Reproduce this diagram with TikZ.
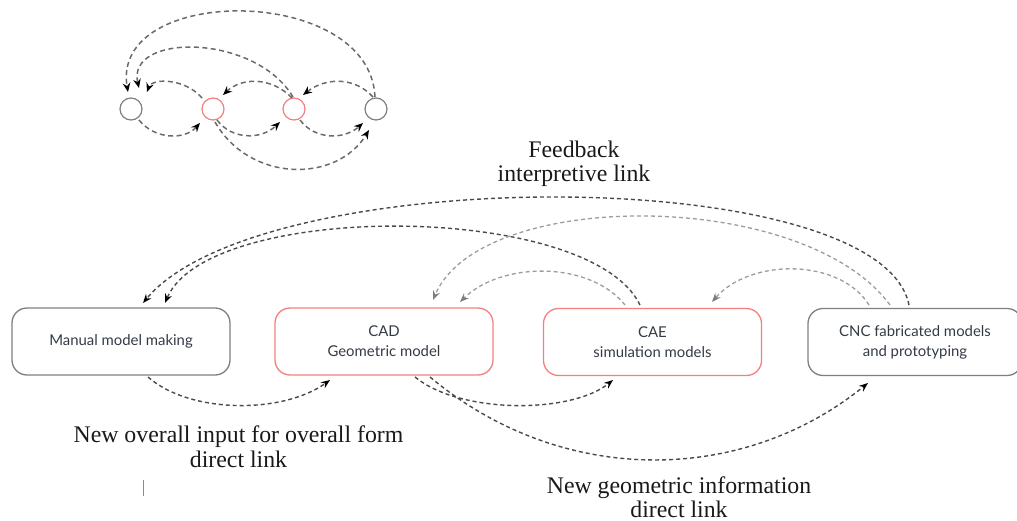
\documentclass[tikz,border=0pt]{standalone}
\usepackage{fontspec}
\setmainfont{Liberation Serif}
\newfontfamily\boxfont{Lato}
\usetikzlibrary{arrows.meta}
\definecolor{boxgray}{HTML}{7F7F7F}
\definecolor{boxred}{HTML}{F47F7F}
\definecolor{darkdash}{HTML}{4A4A4A}
\definecolor{lightdash}{HTML}{9C9C9C}
\definecolor{smalldash}{HTML}{6A6A6A}
\definecolor{txt}{HTML}{333B45}
\tikzset{
  stagebox/.style={draw=boxgray, line width=1.3pt, rounded corners=15pt,
    minimum width=218pt, minimum height=67pt, inner sep=0pt, align=center,
    font=\boxfont\fontsize{14.9}{20}\selectfont, text=txt},
  redbox/.style={stagebox, draw=boxred},
  dot/.style={circle, draw=boxgray, line width=1.2pt, minimum size=22pt, inner sep=0pt},
  reddot/.style={dot, draw=boxred},
  darklink/.style={draw=darkdash, line width=1.4pt, dash pattern=on 4pt off 3pt,
    -{Stealth[length=9pt,width=7pt,inset=3pt,color=black]}},
  lightlink/.style={draw=lightdash, line width=1.3pt, dash pattern=on 4pt off 3pt,
    -{Stealth[length=9pt,width=7pt,inset=3pt,color=lightdash!80!black]}},
  smalllink/.style={draw=smalldash, line width=1.5pt, dash pattern=on 5pt off 3.5pt,
    -{Stealth[length=9pt,width=7.5pt,inset=3pt,color=black]}},
  lbl/.style={anchor=base, inner sep=0pt, font=\fontsize{23.8}{24}\selectfont, text=black!90}
}
\begin{document}
\begin{tikzpicture}[x=1pt,y=-1pt]
\useasboundingbox (0,0) rectangle (1017,521);
% small diagram
\node[dot] (c1) at (131,109) {};
\node[reddot] (c2) at (213,109) {};
\node[reddot] (c3) at (294,109) {};
\node[dot] (c4) at (376,109) {};
\draw[smalllink] ([shift={(-1,-12)}]c4.center) .. controls (370,-16) and (110,-16) .. ([shift={(-3,-17)}]c1.center);
\draw[smalllink] ([shift={(-1,-12)}]c3.center) .. controls (255,33) and (126,33) .. ([shift={(8,-21)}]c1.center);
\draw[smalllink] ([shift={(-11,-11)}]c2.center) .. controls (185,78) and (152,78) .. ([shift={(16,-17)}]c1.center);
\draw[smalllink] ([shift={(-2,-11)}]c3.center) .. controls (272,77) and (242,77) .. ([shift={(10,-14)}]c2.center);
\draw[smalllink] ([shift={(-3,-12)}]c4.center) .. controls (355,77) and (326,77) .. ([shift={(9,-14)}]c3.center);
\draw[smalllink] ([shift={(8,11)}]c1.center) .. controls (155,140) and (185,140) .. ([shift={(-13,14)}]c2.center);
\draw[smalllink] ([shift={(4,11)}]c2.center) .. controls (232,140) and (261,140) .. ([shift={(-14,13)}]c3.center);
\draw[smalllink] ([shift={(6,11)}]c3.center) .. controls (315,140) and (344,140) .. ([shift={(-13,14)}]c4.center);
\draw[smalllink] ([shift={(2,13)}]c2.center) .. controls (250,183) and (337,183) .. ([shift={(-7,21)}]c4.center);
% boxes
\node[stagebox] (man) at (121,341.5) {Manual model making};
\node[redbox] (cad) at (384,341.5) {CAD\\Geometric model};
\node[redbox] (cae) at (652.5,342) {CAE\\simulation models};
\node[stagebox, minimum width=214pt] (cnc) at (915,342) {CNC fabricated models\\and prototyping};
% feedback links
\draw[darklink] ([shift={(-6,-37)}]cnc.center) .. controls (880,162) and (260,162) .. ([shift={(22,-38.5)}]man.center);
\draw[darklink] ([shift={(-12.5,-37)}]cae.center) .. controls (590,201) and (208,201) .. ([shift={(44,-38.5)}]man.center);
\draw[lightlink] ([shift={(-25,-37)}]cnc.center) .. controls (804,188) and (480,188) .. ([shift={(49,-41.5)}]cad.center);
\draw[lightlink] ([shift={(-27.5,-37)}]cae.center) .. controls (590,261) and (502,261) .. ([shift={(76,-39.5)}]cad.center);
\draw[lightlink] ([shift={(-46,-37)}]cnc.center) .. controls (840,258) and (750,258) .. ([shift={(59.5,-40)}]cae.center);
% direct links
\draw[darklink] ([shift={(27,35.5)}]man.center) .. controls (190,414) and (283,414) .. ([shift={(-54,38.5)}]cad.center);
\draw[darklink] ([shift={(31,35.5)}]cad.center) .. controls (460,414) and (571,414) .. ([shift={(-39.5,38)}]cae.center);
\draw[darklink] ([shift={(46,35.5)}]cad.center) .. controls (560,486) and (741,486) .. ([shift={(-47,41)}]cnc.center);
% labels
\node[lbl] (fb1) at (574,158) {Feedback};
\node[lbl] (fb2) at (574,182) {interpretive link};
\node[lbl] (no1) at (238.5,442) {New overall input for overall form};
\node[lbl] (no2) at (238.5,467) {direct link};
\node[lbl] (ng1) at (679,493) {New geometric information};
\node[lbl] (ng2) at (679,517) {direct link};
\draw[black!45, line width=0.8pt] (143,480) -- (143,496);
\end{tikzpicture}
\end{document}
